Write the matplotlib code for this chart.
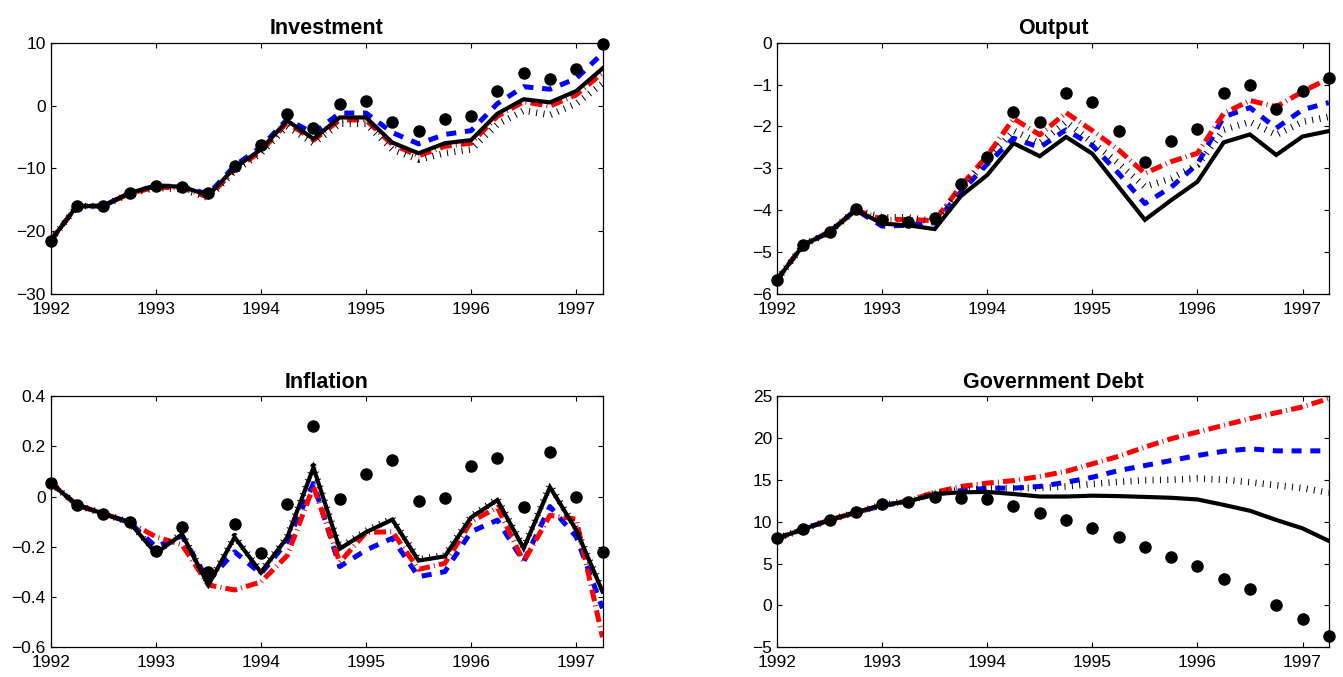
import matplotlib
matplotlib.use("Agg")
import matplotlib.pyplot as plt

plt.rcParams['font.family'] = ['Liberation Sans', 'DejaVu Sans']
plt.rcParams['lines.scale_dashes'] = False

# ---------------- data ----------------
quarters = [1992.0, 1992.25, 1992.5, 1992.75, 1993.0, 1993.25, 1993.5, 1993.75,
            1994.0, 1994.25, 1994.5, 1994.75, 1995.0, 1995.25, 1995.5, 1995.75,
            1996.0, 1996.25, 1996.5, 1996.75, 1997.0, 1997.25]
year_ticks = [1992, 1993, 1994, 1995, 1996, 1997]

titles = ["Investment", "Output", "Inflation", "Government Debt"]

# Investment
inv_data = [-21.5, -16.0, -16.0, -13.9, -12.8, -12.9, -13.9, -9.6, -6.3, -1.3, -3.6,
            0.3, 0.7, -2.6, -4.0, -2.2, -1.6, 2.3, 5.1, 4.2, 5.8, 9.8]
inv_solid = [-21.5, -16.0, -16.0, -13.9, -12.8, -12.9, -14.3, -9.9, -7.0, -2.4, -5.3,
             -1.9, -1.9, -5.9, -7.6, -6.0, -5.5, -1.3, 1.0, 0.5, 2.3, 5.9]
inv_blue = [-21.5, -16.0, -16.0, -13.9, -12.8, -12.9, -14.1, -9.6, -6.6, -2.2, -4.4,
            -1.2, -1.2, -4.3, -6.1, -4.6, -4.0, 0.3, 3.0, 2.6, 4.3, 8.3]
inv_red = [-21.5, -16.0, -16.0, -14.0, -13.0, -13.1, -14.6, -10.2, -7.3, -2.7, -5.5,
           -2.3, -2.3, -6.2, -8.0, -6.5, -6.0, -1.7, 0.6, -0.1, 1.7, 5.2]
inv_dot = [-21.5, -16.0, -16.0, -14.0, -13.1, -13.3, -14.7, -10.4, -7.6, -3.3, -6.0,
           -2.9, -2.9, -7.0, -8.6, -7.6, -7.0, -3.0, -0.8, -1.5, 0.3, 3.5]
inv_yticks = [-30, -20, -10, 0, 10]

# Output
out_data = [-5.66, -4.83, -4.52, -3.97, -4.24, -4.27, -4.19, -3.37, -2.74, -1.66, -1.89,
            -1.19, -1.41, -2.11, -2.86, -2.35, -2.06, -1.19, -1.01, -1.58, -1.15, -0.85]
out_solid = [-5.66, -4.83, -4.52, -3.99, -4.32, -4.36, -4.45, -3.66, -3.16, -2.40, -2.71,
             -2.25, -2.65, -3.44, -4.23, -3.76, -3.32, -2.38, -2.19, -2.68, -2.24, -2.11]
out_blue = [-5.66, -4.83, -4.52, -3.99, -4.38, -4.36, -4.30, -3.56, -2.90, -2.28, -2.50,
            -2.08, -2.45, -3.12, -3.84, -3.45, -2.90, -1.77, -1.55, -2.04, -1.60, -1.43]
out_red = [-5.66, -4.83, -4.52, -3.99, -4.22, -4.22, -4.25, -3.42, -2.70, -1.81, -2.20,
           -1.67, -2.10, -2.56, -3.12, -2.84, -2.64, -1.69, -1.38, -1.53, -1.17, -0.85]
out_dot = [-5.66, -4.83, -4.52, -3.99, -4.17, -4.17, -4.27, -3.50, -2.80, -2.10, -2.40,
           -1.89, -2.38, -2.88, -3.44, -3.24, -2.92, -2.08, -1.89, -2.20, -1.89, -1.77]
out_yticks = [-6, -5, -4, -3, -2, -1, 0]

# Inflation
inf_data = [0.054, -0.034, -0.068, -0.103, -0.217, -0.121, -0.302, -0.110, -0.224, -0.028,
            0.280, -0.011, 0.088, 0.144, -0.017, -0.007, 0.120, 0.155, -0.040, 0.177,
            -0.003, -0.222]
inf_solid = [0.054, -0.034, -0.068, -0.103, -0.226, -0.150, -0.352, -0.162, -0.302, -0.163,
             0.115, -0.208, -0.142, -0.092, -0.255, -0.238, -0.083, -0.014, -0.206, 0.037,
             -0.133, -0.378]
inf_blue = [0.054, -0.034, -0.068, -0.103, -0.200, -0.157, -0.335, -0.220, -0.307, -0.180,
            0.052, -0.279, -0.213, -0.166, -0.319, -0.299, -0.140, -0.094, -0.259, -0.040,
            -0.160, -0.445]
inf_red = [0.054, -0.034, -0.068, -0.103, -0.160, -0.192, -0.352, -0.372, -0.340, -0.235,
           0.040, -0.262, -0.143, -0.140, -0.290, -0.266, -0.100, -0.043, -0.259, -0.075,
           -0.090, -0.560]
inf_dot = [0.054, -0.034, -0.068, -0.103, -0.222, -0.146, -0.347, -0.158, -0.297, -0.158,
           0.120, -0.203, -0.137, -0.087, -0.250, -0.233, -0.078, -0.009, -0.201, 0.045,
           -0.128, -0.373]
inf_yticks = [-0.6, -0.4, -0.2, 0, 0.2, 0.4]
inf_ylabels = ["\u22120.6", "\u22120.4", "\u22120.2", "0", "0.2", "0.4"]

# Government debt
debt_data = [8.0, 9.1, 10.2, 11.1, 12.1, 12.4, 12.9, 12.8, 12.7, 11.9, 11.0, 10.2, 9.3,
             8.2, 7.0, 5.8, 4.7, 3.2, 1.95, 0.0, -1.67, -3.6]
debt_solid = [8.0, 9.1, 10.2, 11.1, 12.0, 12.4, 13.3, 13.5, 13.55, 13.3, 13.0, 13.0, 13.1,
              13.05, 12.95, 12.85, 12.65, 12.0, 11.3, 10.2, 9.2, 7.7]
debt_blue = [8.0, 9.1, 10.2, 11.1, 11.9, 12.4, 13.3, 13.7, 14.0, 14.0, 14.2, 14.7, 15.3,
             16.1, 16.7, 17.3, 17.9, 18.4, 18.7, 18.45, 18.45, 18.45]
debt_red = [8.0, 9.1, 10.2, 11.1, 11.9, 12.5, 13.5, 14.2, 14.6, 14.9, 15.4, 16.0, 16.9,
            17.8, 18.9, 19.9, 20.7, 21.5, 22.3, 23.0, 23.7, 24.7]
debt_dot = [8.0, 9.1, 10.2, 11.1, 12.0, 12.5, 13.4, 13.8, 13.95, 14.0, 14.05, 14.2, 14.5,
            14.75, 14.95, 15.0, 15.15, 15.0, 14.7, 14.35, 14.0, 13.45]
debt_yticks = [-5, 0, 5, 10, 15, 20, 25]

panels = [
    (inv_data, inv_solid, inv_blue, inv_red, inv_dot, inv_yticks, None),
    (out_data, out_solid, out_blue, out_red, out_dot, out_yticks, None),
    (inf_data, inf_solid, inf_blue, inf_red, inf_dot, inf_yticks, inf_ylabels),
    (debt_data, debt_solid, debt_blue, debt_red, debt_dot, debt_yticks, None),
]

# ---------------- figure ----------------
W, H = 1343, 677
fig = plt.figure(figsize=(W / 100, H / 100), dpi=100)

lefts = [50.7, 777.0]
tops = [42.7, 396.0]
aw, ah = 551.8, 251.3

for k, (d, s, b, r, dt, yt, ylab) in enumerate(panels):
    row, col = divmod(k, 2)
    ax = fig.add_axes([lefts[col] / W, 1 - (tops[row] + ah) / H, aw / W, ah / H])
    ax.plot(quarters, b, color='#0000ff', lw=3.6, linestyle=(0, (7.2, 6.3)))
    ax.plot(quarters, r, color='#ff0000', lw=3.6, linestyle=(0, (8.6, 3.0, 0.7, 3.0)))
    ax.plot(quarters, dt, color='black', lw=4.8, linestyle=(0, (0.7, 4.6)))
    ax.plot(quarters, s, color='black', lw=3.0, solid_joinstyle='miter')
    ax.plot(quarters, d, linestyle='none', marker='o', markersize=8,
            color='black', clip_on=False, zorder=5)
    ax.set_xlim(quarters[0], quarters[-1])
    ax.set_ylim(yt[0], yt[-1])
    ax.set_xticks(year_ticks)
    ax.set_xticklabels([str(y) for y in year_ticks])
    ax.set_yticks(yt)
    if ylab is not None:
        ax.set_yticklabels(ylab)
    ax.tick_params(direction='in', top=True, right=True, length=3.6, width=0.8,
                   labelsize=12.5, colors='black')
    ax.tick_params(axis='y', pad=3.5)
    ax.tick_params(axis='x', pad=5.5)
    for sp in ax.spines.values():
        sp.set_linewidth(0.9)
    ax.set_title(titles[k], fontsize=15.5, fontweight='bold', pad=6)

fig.savefig("out.png", dpi=100)
